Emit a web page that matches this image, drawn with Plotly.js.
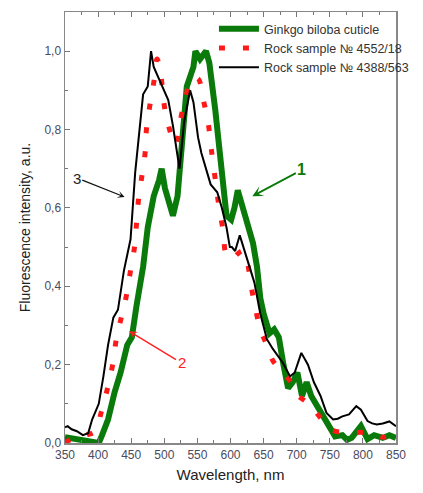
<!DOCTYPE html>
<html>
<head>
<meta charset="utf-8">
<script src="https://cdn.plot.ly/plotly-3.0.1.min.js"></script>
<style>html,body{margin:0;padding:0;background:#fff;}#chart{width:423px;height:493px;}</style>
</head>
<body>
<div id="chart"></div>
<script>
// Series 1: Ginkgo biloba cuticle (green)
const ginkgoX = [350,360,370,380,390,401,406,415,425,434,444,451,458,468,475,484,492,496,501,508,513,520,525,530,534,544,547,554,563,568,573,577,582,589,594,601,606,611,617,624,634,640,645,650,659,666,673,680,687,694,701,708,715,722,731,740,750,758,769,776,783,797,807,817,830,840,850];
const ginkgoY = [0.015,0.012,0.01,0.008,0.005,0.0,0.02,0.06,0.13,0.18,0.25,0.27,0.35,0.45,0.55,0.63,0.67,0.70,0.65,0.60,0.58,0.63,0.72,0.83,0.91,0.96,1.0,0.98,1.0,0.97,0.91,0.85,0.77,0.66,0.58,0.57,0.60,0.645,0.61,0.57,0.51,0.45,0.37,0.33,0.28,0.29,0.27,0.20,0.14,0.155,0.18,0.12,0.155,0.12,0.094,0.068,0.043,0.017,0.02,0.008,0.013,0.043,0.01,0.02,0.013,0.02,0.013];

// Series 2: Rock sample № 4552/18 (red dotted)
const rock1X = [350,360,370,382,395,405,415,422,428,435,442,448,455,458,461,466,471,473,478,485,489,493,501,508,517,525,532,541,551,559,566,571,578,582,589,594,604,609,619,634,645,655,664,679,689,700,720,736,752,769,786,807,830,850];
const rock1Y = [0.0,0.01,0.01,0.02,0.03,0.08,0.145,0.20,0.27,0.32,0.37,0.43,0.50,0.56,0.62,0.68,0.74,0.80,0.86,0.93,0.98,0.96,0.85,0.80,0.76,0.83,0.88,0.93,0.93,0.875,0.82,0.75,0.66,0.61,0.54,0.48,0.47,0.48,0.49,0.375,0.29,0.25,0.21,0.18,0.16,0.124,0.098,0.064,0.034,0.027,0.027,0.026,0.015,0.02];

// Series 3: Rock sample № 4388/563 (black)
const rock2X = [350,354,360,368,377,385,391,396,401,408,415,423,430,439,449,456,463,468,475,480,484,492,499,506,513,520,523,530,539,544,551,556,563,570,580,587,594,599,602,607,614,621,628,636,645,655,664,672,679,690,697,707,717,726,736,745,755,762,769,779,790,797,807,814,821,830,840,850];
const rock2Y = [0.04,0.043,0.035,0.03,0.02,0.025,0.06,0.08,0.1,0.17,0.25,0.32,0.34,0.44,0.52,0.69,0.81,0.89,0.91,1.0,0.96,0.93,0.905,0.875,0.81,0.73,0.70,0.82,0.90,0.87,0.78,0.74,0.70,0.66,0.64,0.60,0.55,0.50,0.50,0.49,0.53,0.49,0.45,0.41,0.33,0.265,0.24,0.22,0.205,0.17,0.18,0.23,0.20,0.155,0.12,0.077,0.06,0.062,0.068,0.073,0.094,0.085,0.056,0.05,0.047,0.05,0.055,0.043];

const seriesNames = ['Ginkgo biloba cuticle', 'Rock sample № 4552/18', 'Rock sample № 4388/563'];
const xTickVals = [350,400,450,500,550,600,650,700,750,800,850];
const yTickVals = [0.0,0.2,0.4,0.6,0.8,1.0];

const traces = [
  {x: ginkgoX, y: ginkgoY, name: seriesNames[0], mode: 'lines', line: {color: '#0a7a0a', width: 6}},
  {x: rock1X, y: rock1Y, name: seriesNames[1], mode: 'lines', line: {color: '#ff1a1a', width: 5, dash: '6px,18px', shape: 'spline'}},
  {x: rock2X, y: rock2Y, name: seriesNames[2], mode: 'lines', line: {color: '#000000', width: 2}}
];

const tickFont = {family: 'Arial, Liberation Sans, sans-serif', size: 12, color: '#4a4a5e'};
const layout = {
  width: 423, height: 493,
  margin: {l: 65, r: 9, t: 12, b: 50},
  paper_bgcolor: '#fff', plot_bgcolor: '#fff',
  separators: ', ',
  showlegend: true,
  legend: {x: 0.45, y: 0.995, xanchor: 'left', yanchor: 'top', bgcolor: 'rgba(0,0,0,0)',
    font: {family: 'Arial, Liberation Sans, sans-serif', size: 12.5, color: '#333'}, tracegroupgap: 0, itemwidth: 40},
  xaxis: {
    range: [350, 850], tickvals: xTickVals, ticks: 'inside', ticklen: 5, tickcolor: '#777', tickwidth: 1,
    minor: {dtick: 25, tick0: 350, ticks: 'inside', ticklen: 3, tickcolor: '#777'},
    showline: true, linecolor: '#888', linewidth: 1.5, mirror: 'ticks', showgrid: false, zeroline: false,
    tickfont: tickFont,
    title: {text: 'Wavelength, nm', font: {family: 'Arial, Liberation Sans, sans-serif', size: 15, color: '#222'}, standoff: 8}
  },
  yaxis: {
    range: [0, 1.1], tickvals: yTickVals, tickformat: '.1f', ticks: 'inside', ticklen: 5, tickcolor: '#777', tickwidth: 1,
    minor: {dtick: 0.1, tick0: 0, ticks: 'inside', ticklen: 3, tickcolor: '#777'},
    showline: true, linecolor: '#888', linewidth: 1.5, mirror: true, showgrid: false, zeroline: false,
    tickfont: tickFont,
    title: {text: 'Fluorescence intensity, a.u.', font: {family: 'Arial, Liberation Sans, sans-serif', size: 14, color: '#222'}, standoff: 10}
  },
  annotations: [
    {x: 633, y: 0.63, ax: 312, ay: 170, text: '<b>1</b>', showarrow: true, arrowhead: 3, arrowsize: 1, arrowwidth: 1.8, arrowcolor: '#0a7a0a', font: {size: 16, color: '#0a7a0a', family: 'Arial'}},
    {x: 447, y: 0.285, ax: 185, ay: 363, text: '2', showarrow: true, arrowhead: 3, arrowsize: 1, arrowwidth: 1.4, arrowcolor: '#ff2020', font: {size: 15, color: '#ff2020', family: 'Arial'}},
    {x: 440, y: 0.628, ax: 80, ay: 178, text: '3', showarrow: true, arrowhead: 3, arrowsize: 1, arrowwidth: 1.2, arrowcolor: '#111', font: {size: 15, color: '#222', family: 'Arial'}}
  ]
};
// Annotation tails given in absolute pixel positions; convert to offsets from the arrow head
function toOffsets(ann) {
  const l = 65, t = 12, w = 423 - 65 - 9, h = 493 - 12 - 50;
  const px = l + (ann.x - 350) / 500 * w;
  const py = t + (1.1 - ann.y) / 1.1 * h;
  ann.ax = ann.ax - px; ann.ay = ann.ay - py;
  return ann;
}
layout.annotations = layout.annotations.map(toOffsets);
Plotly.newPlot('chart', traces, layout, {displayModeBar: false, staticPlot: true});
</script>
</body>
</html>
